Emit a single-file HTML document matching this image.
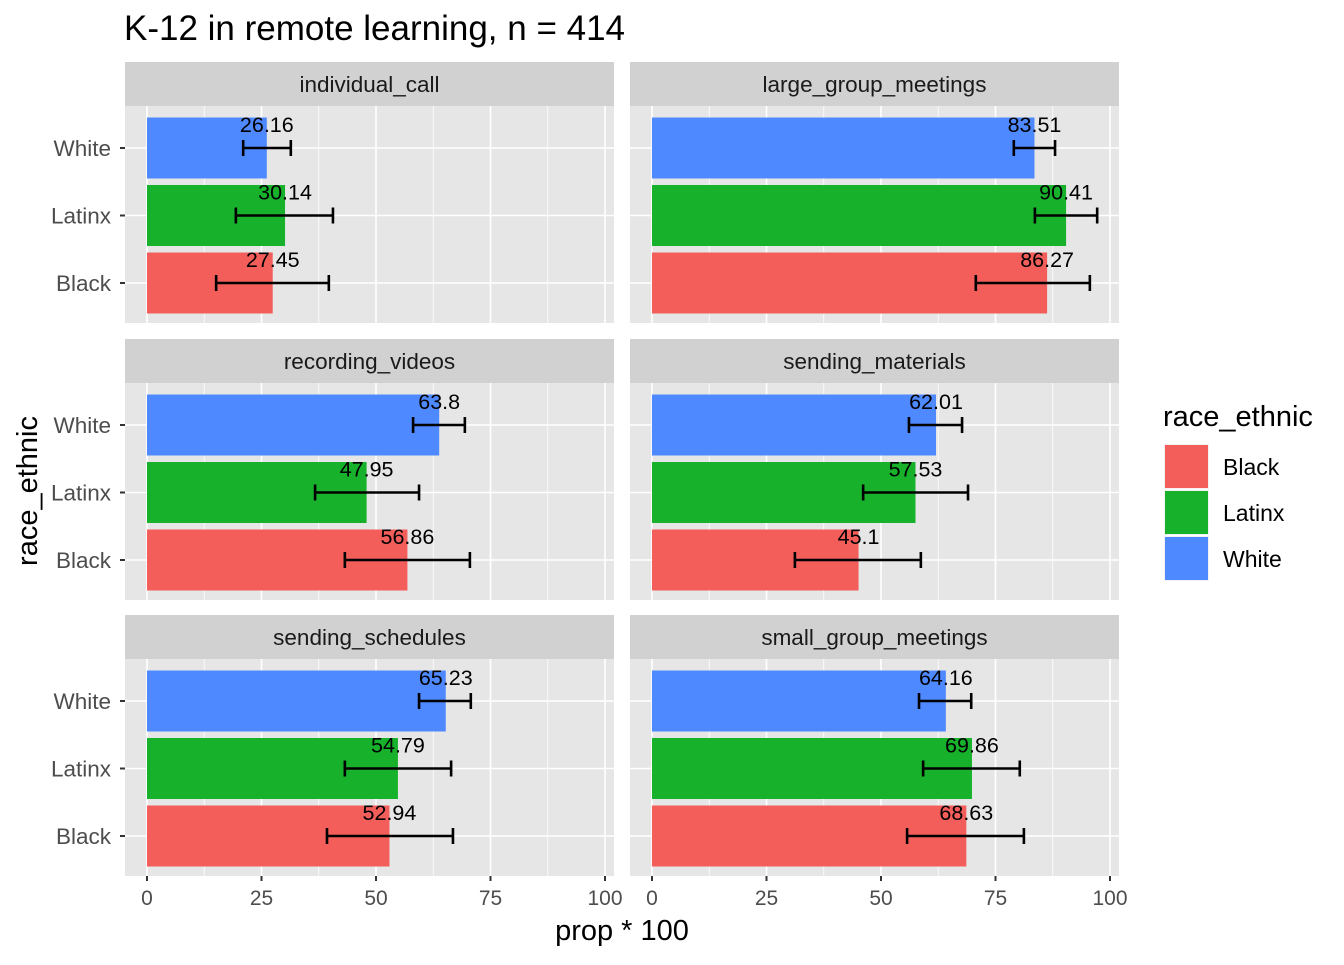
<!DOCTYPE html>
<html><head><meta charset="utf-8"><style>
body{margin:0;background:#fff;}
svg{font-family:"Liberation Sans",Arial,sans-serif;}
</style></head><body>
<svg id="c" width="1344" height="960"></svg>
<script>
const facets=["individual_call","large_group_meetings","recording_videos","sending_materials","sending_schedules","small_group_meetings"];
const groups=["Black","Latinx","White"];
const fills=["#F35E5A","#17B12B","#4F89FF"];
// values [Black, Latinx, White]
const values=[[27.45,30.14,26.16],[86.27,90.41,83.51],[56.86,47.95,63.8],[45.1,57.53,62.01],[52.94,54.79,65.23],[68.63,69.86,64.16]];
const lows=[[15.1,19.4,21],[70.7,83.6,79.0],[43.2,36.7,58.1],[31.2,46.1,56.1],[39.3,43.2,59.4],[55.7,59.2,58.3]];
const highs=[[39.7,40.6,31.4],[95.6,97.2,88.0],[70.5,59.4,69.4],[58.7,69.0,67.7],[66.8,66.4,70.7],[81.2,80.3,69.7]];
const ticks=[0,25,50,75,100];
const svg=document.getElementById('c');
const NS="http://www.w3.org/2000/svg";
function mk(t,a,p){const e=document.createElementNS(NS,t);for(const k in a)e.setAttribute(k,a[k]);(p||svg).appendChild(e);return e;}
const colX=[125,630], pw=489, rowY=[62,339,615], stripH=44, ph=217;
function xs(c,v){return colX[c]+22+v*4.58;}
function ys(r,i){return rowY[r]+stripH+177-i*67.5;}
let t=mk('text',{x:124,y:40,'font-size':35,fill:'#000'});t.textContent='K-12 in remote learning, n = 414';

facets.forEach((f,fi)=>{
 const c=fi%2,r=Math.floor(fi/2);
 const g=mk('g',{});
 
 
 mk('rect',{x:colX[c],y:rowY[r],width:pw,height:stripH,fill:'#D1D1D1'},g);
 const st=mk('text',{x:colX[c]+pw/2,y:rowY[r]+30,'text-anchor':'middle','font-size':22.5,fill:'#1a1a1a'},g);st.textContent=f;
 const py=rowY[r]+stripH;
 mk('rect',{x:colX[c],y:py,width:pw,height:ph,fill:'#E6E6E6'},g);
 for(let k=0;k<4;k++){const v=12.5+25*k;mk('line',{x1:xs(c,v),x2:xs(c,v),y1:py,y2:py+ph,stroke:'#fff','stroke-width':0.8},g);}
 ticks.forEach(v=>mk('line',{x1:xs(c,v),x2:xs(c,v),y1:py,y2:py+ph,stroke:'#fff','stroke-width':1.6},g));
 groups.forEach((gr,i)=>mk('line',{x1:colX[c],x2:colX[c]+pw,y1:ys(r,i),y2:ys(r,i),stroke:'#fff','stroke-width':1.6},g));
 groups.forEach((gr,i)=>{
  const y=ys(r,i);
  const b=mk('rect',{x:xs(c,0),y:y-30.5,width:xs(c,values[fi][i])-xs(c,0),height:61,fill:fills[i]},g);
  
  
  const x1=xs(c,lows[fi][i]),x2=xs(c,highs[fi][i]);
  mk('line',{x1:x1,x2:x2,y1:y,y2:y,stroke:'#000','stroke-width':2.6},g);
  mk('line',{x1:x1,x2:x1,y1:y-8,y2:y+8,stroke:'#000','stroke-width':2.6},g);
  mk('line',{x1:x2,x2:x2,y1:y-8,y2:y+8,stroke:'#000','stroke-width':2.6},g);
  const lt=mk('text',{x:xs(c,values[fi][i]),y:y-16,'text-anchor':'middle','font-size':21.5,fill:'#000'},g);lt.textContent=String(values[fi][i]);
  if(c==0){
   mk('line',{x1:colX[c]-5,x2:colX[c],y1:y,y2:y,stroke:'#333','stroke-width':2},g);
   const yt=mk('text',{x:colX[c]-14,y:y+8,'text-anchor':'end','font-size':22.5,fill:'#4D4D4D'},g);yt.textContent=gr;
  }
 });
 if(r==2){ticks.forEach(v=>{
  mk('line',{x1:xs(c,v),x2:xs(c,v),y1:py+ph,y2:py+ph+5,stroke:'#333','stroke-width':2},g);
  const tt=mk('text',{x:xs(c,v),y:py+ph+29,'text-anchor':'middle','font-size':21,fill:'#4D4D4D'},g);tt.textContent=v;
 });}
});
t=mk('text',{x:622,y:940,'text-anchor':'middle','font-size':29,fill:'#000'});t.textContent='prop * 100';

t=mk('text',{x:0,y:0,'text-anchor':'middle','font-size':29,fill:'#000',transform:'translate(37,491) rotate(-90)'});t.textContent='race_ethnic';

const lg=mk('g',{});

t=mk('text',{x:1163,y:426,'font-size':29,fill:'#000'},lg);t.textContent='race_ethnic';
groups.forEach((gr,i)=>{
 const e=mk('g',{},lg);
 
 
 mk('rect',{x:1164,y:444+i*46,width:45,height:45,fill:'#F2F2F2'},e);
 mk('rect',{x:1165,y:445+i*46,width:43,height:43,fill:fills[i]},e);
 const lt=mk('text',{x:1223,y:475+i*46,'font-size':23,fill:'#000'},e);lt.textContent=gr;
});
</script>
</body></html>
